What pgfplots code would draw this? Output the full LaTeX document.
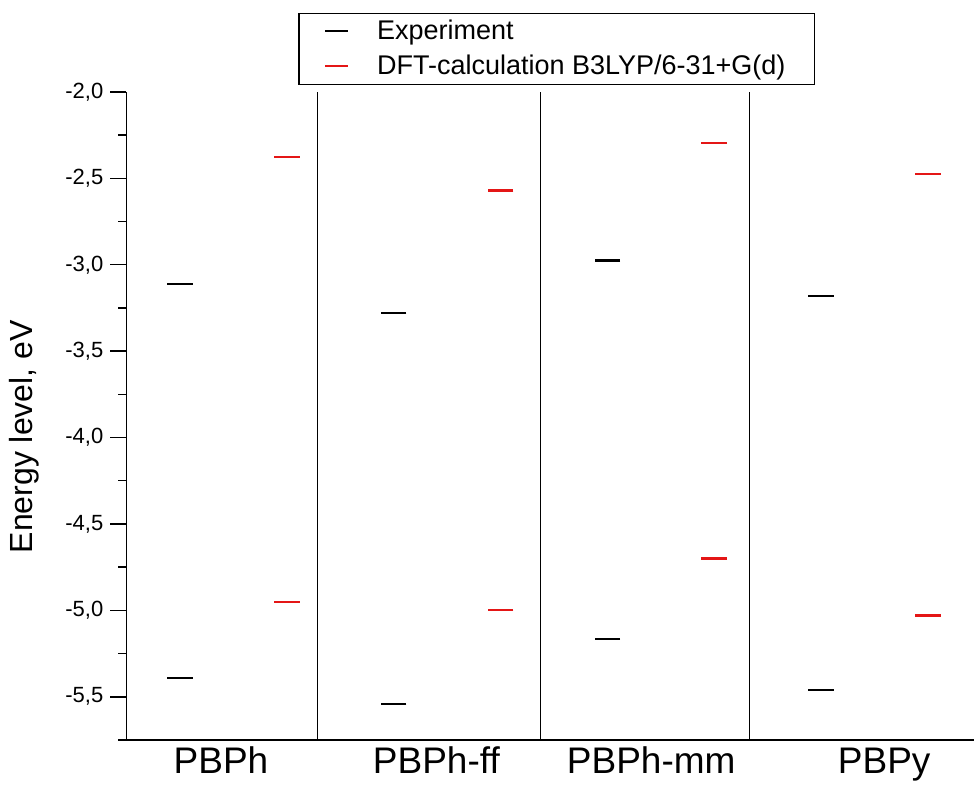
\documentclass[border=0pt]{standalone}
\usepackage{pgfplots}
\pgfplotsset{compat=1.18}
\usepackage{fontspec}
\setmainfont{Liberation Sans}
\usetikzlibrary{calc}
\definecolor{dftred}{RGB}{228,22,22}
\begin{document}
\begin{tikzpicture}
\begin{axis}[
  scale only axis, width=423.8pt, height=324pt,
  xmin=0.5, xmax=8.43, ymin=-5.75, ymax=-2,
  axis x line=bottom, axis y line=left,
  axis line style={-, line width=0.8pt},
  x axis line style={-, line width=1.3pt},
  xtick={1.385,3.40,5.41,7.59},
  xticklabels={PBPh, PBPh-ff, PBPh-mm, PBPy},
  xtick style={draw=none},
  xticklabel style={font=\fontsize{18.5}{22}\selectfont, anchor=base, yshift=-8.5pt},
  extra x ticks={2.289,4.375,6.325},
  extra x tick labels={},
  extra x tick style={grid=major, major grid style={black, line width=0.5pt}, tick style={draw=none}},
  ytick={-5.5,-5,...,-2},
  minor ytick={-5.75,-5.25,...,-2.25},
  tick align=outside,
  major tick length=8pt, minor tick length=4pt,
  ytick style={black, line width=0.7pt},
  yticklabel style={font=\fontsize{11}{13}\selectfont, /pgf/number format/.cd, fixed, fixed zerofill, precision=1, use comma, assume math mode=true},
  ylabel={Energy level, eV},
  every axis y label/.style={at={(rel axis cs:0,0.468)}, rotate=90, anchor=base, yshift=46.7pt, font=\fontsize{16}{19}\selectfont},
  legend style={at={(rel axis cs:0.203,1.1225)}, anchor=north west, draw=black, line width=0.6pt,
    font=\fontsize{13.5}{16}\selectfont, inner xsep=12.5pt, inner ysep=1.5pt, row sep=2pt, column sep=12pt,
    nodes={inner sep=2pt}},
  legend cell align=left,
  clip=false,
]
\addplot[only marks, mark=-, mark size=6.4pt, black, mark options={line width=1.1pt},
  legend image code/.code={\draw[black, line width=1pt] (0pt,0pt) -- (11.5pt,0pt);}]
  coordinates {(1,-3.11) (1,-5.39) (3,-3.28) (3,-5.54) (5,-2.975) (5,-5.165) (7,-3.18) (7,-5.46)};
\addlegendentry{Experiment}
\addplot[only marks, mark=-, mark size=6.4pt, dftred, mark options={line width=1.1pt},
  legend image code/.code={\draw[dftred, line width=1pt] (0pt,0pt) -- (11.5pt,0pt);}]
  coordinates {(2,-2.374) (2,-4.95) (4,-2.57) (4,-5.00) (6,-2.297) (6,-4.70) (8,-2.476) (8,-5.03)};
\addlegendentry{DFT-calculation B3LYP/6-31+G(d)}
\coordinate (sw) at (rel axis cs:0,0);
\coordinate (ne) at (rel axis cs:1,1);
\end{axis}
\pgfresetboundingbox
\path ($(sw)+(-63.2pt,-23.5pt)$) rectangle ($(ne)+(0pt,46pt)$);
\end{tikzpicture}
\end{document}
